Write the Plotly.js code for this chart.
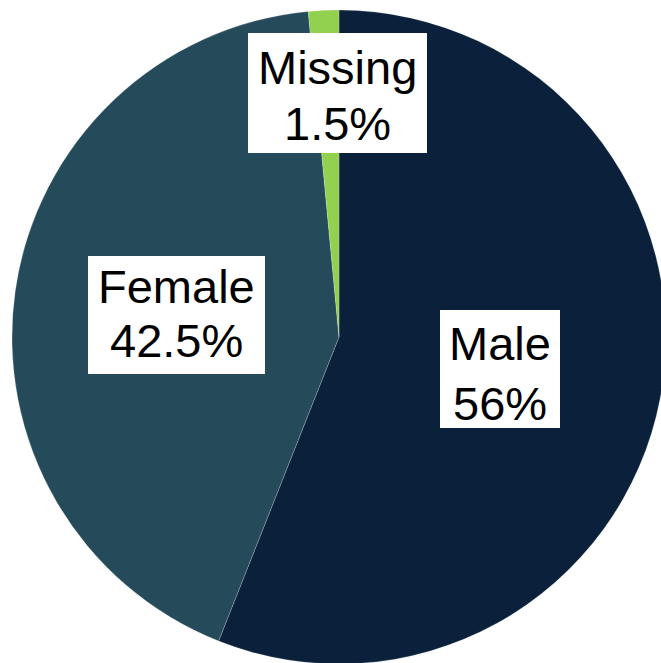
<!DOCTYPE html>
<html>
<head>
<meta charset="utf-8">
<script src="https://cdn.plot.ly/plotly-3.0.1.min.js"></script>
<style>
html,body{margin:0;padding:0;overflow:hidden;background:#fff;}
#chart{width:700px;height:700px;}
</style>
</head>
<body>
<div id="chart"></div>
<script>
const categories = ["Male", "Female", "Missing"];
const shares = [56, 42.5, 1.5];
const percentLabels = ["56%", "42.5%", "1.5%"];
const sliceColors = ["#0b213b", "#254a5a", "#92d050"];

const W = 700, H = 700;
// label boxes in pixels [x0, y0, x1, y1] and line centres (layout only)
const labelBoxes = [[440, 310, 560, 428], [88, 256, 265, 374], [248, 33, 427, 153]];
const lineMids = [[343, 403], [286, 340], [67, 123]];
const FONT = {family: "Liberation Sans, Arial, sans-serif", size: 47, color: "#000"};

const shapes = labelBoxes.map(b => ({
  type: "rect", xref: "paper", yref: "paper", layer: "above",
  x0: b[0] / W, x1: b[2] / W, y0: 1 - b[3] / H, y1: 1 - b[1] / H,
  fillcolor: "#ffffff", line: {width: 0}
}));

const annotations = [];
categories.forEach((c, i) => {
  const cx = (labelBoxes[i][0] + labelBoxes[i][2]) / 2 / W;
  [c, percentLabels[i]].forEach((t, j) => {
    annotations.push({
      x: cx, y: 1 - lineMids[i][j] / H,
      xref: "paper", yref: "paper", xanchor: "center", yanchor: "middle",
      text: t, showarrow: false, font: FONT
    });
  });
});

Plotly.newPlot("chart", [{
  type: "pie",
  labels: categories,
  values: shares,
  sort: false,
  direction: "clockwise",
  rotation: 0,
  textinfo: "none",
  hoverinfo: "label+percent",
  marker: {colors: sliceColors, line: {color: "rgba(255,255,255,0.35)", width: 0.6}},
  domain: {x: [12 / W, 666 / W], y: [1 - 664 / H, 1 - 10 / H]}
}], {
  width: W, height: H,
  margin: {l: 0, r: 0, t: 0, b: 0},
  showlegend: false,
  paper_bgcolor: "#fff",
  shapes: shapes,
  annotations: annotations
}, {displayModeBar: false, staticPlot: true});
</script>
</body>
</html>
